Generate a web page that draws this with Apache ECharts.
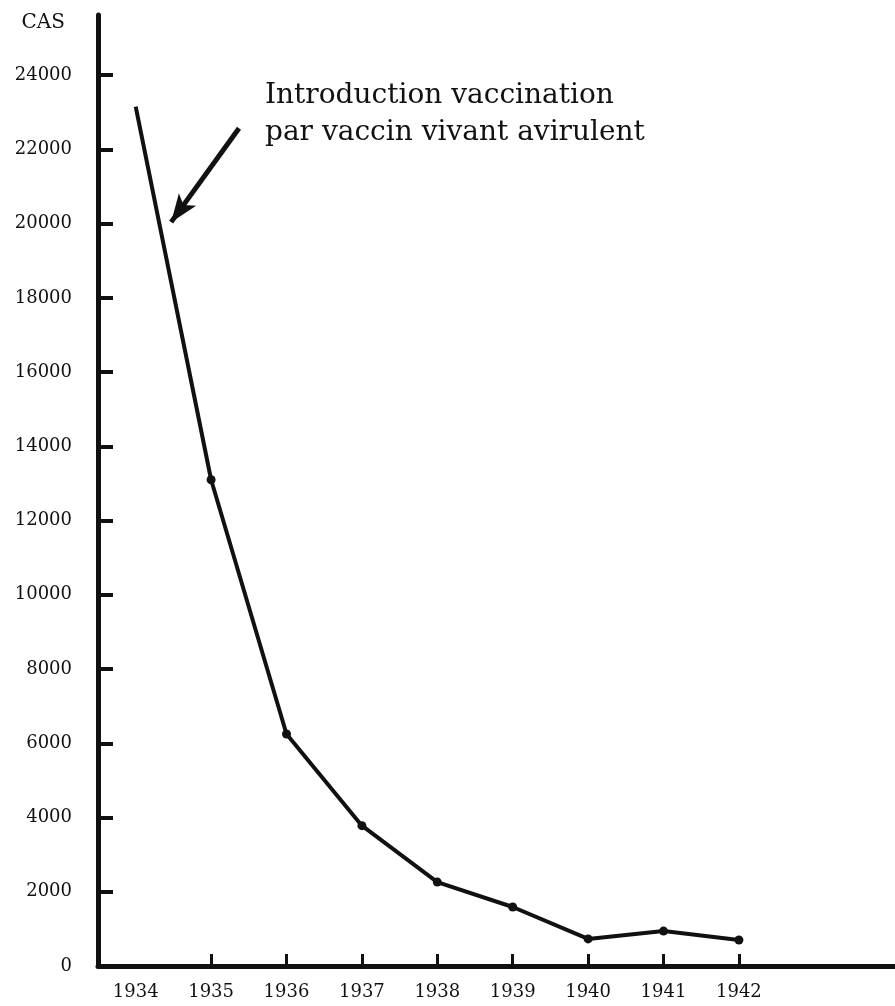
<!DOCTYPE html>
<html>
<head>
<meta charset="utf-8">
<script src="https://cdn.jsdelivr.net/npm/echarts@6/dist/echarts.min.js"></script>
<style>
  html, body { margin: 0; padding: 0; background: #fff; }
  #chart { width: 895px; height: 1006px; }
</style>
</head>
<body>
<div id="chart"></div>
<script>
const years = [1934, 1935, 1936, 1937, 1938, 1939, 1940, 1941, 1942];
const cases = [23150, 13100, 6250, 3780, 2260, 1590, 730, 940, 700];
const yTicks = [0, 2000, 4000, 6000, 8000, 10000, 12000, 14000, 16000, 18000, 20000, 22000, 24000];
const xTickYears = [1935, 1936, 1937, 1938, 1939, 1940, 1941, 1942];
const noteLines = ["Introduction vaccination", "par vaccin vivant avirulent"];

const ink = "#111";
const font = "DejaVu Serif";

const chart = echarts.init(document.getElementById("chart"));

const option = {
  animation: false,
  backgroundColor: "#fff",
  grid: { left: 98, right: 0, top: 15, bottom: 40 },
  xAxis: {
    type: "value",
    min: 1933.5,
    max: 1944.07,
    splitLine: { show: false },
    axisLine: { show: true, lineStyle: { color: ink, width: 5 } },
    axisTick: {
      show: true,
      inside: true,
      length: 12,
      customValues: xTickYears,
      lineStyle: { color: ink, width: 3 }
    },
    axisLabel: {
      customValues: years,
      formatter: v => String(v),
      color: ink,
      fontFamily: font,
      fontSize: 18,
      margin: 17
    }
  },
  yAxis: {
    type: "value",
    min: 0,
    max: 25620,
    name: "CAS",
    nameLocation: "end",
    nameGap: 0,
    nameTextStyle: { color: ink, fontFamily: font, fontSize: 20, align: "right", padding: [0, 33, -18, 0] },
    splitLine: { show: false },
    axisLine: { show: true, lineStyle: { color: ink, width: 5 } },
    axisTick: {
      show: true,
      inside: true,
      length: 15,
      customValues: yTicks.slice(1),
      lineStyle: { color: ink, width: 4 }
    },
    axisLabel: {
      customValues: yTicks,
      formatter: v => String(v),
      color: ink,
      fontFamily: font,
      fontSize: 18,
      margin: 26
    }
  },
  series: [
    {
      type: "line",
      data: years.map((y, i) => [y, cases[i]]),
      lineStyle: { color: ink, width: 4 },
      itemStyle: { color: ink },
      symbol: "circle",
      symbolSize: (v, p) => (p.dataIndex === 0 ? 0 : 9),
      markLine: {
        silent: true,
        symbol: ["none", "arrow"],
        symbolSize: [16, 28],
        label: { show: false },
        lineStyle: { color: ink, width: 5, type: "solid" },
        data: [[{ coord: [1935.37, 22570] }, { coord: [1934.47, 20040] }]]
      }
    }
  ],
  graphic: [
    {
      type: "text",
      left: 265,
      top: 77,
      style: {
        text: noteLines.join("\n"),
        fill: ink,
        font: "28px " + font,
        lineHeight: 37
      }
    }
  ]
};

chart.setOption(option);
</script>
</body>
</html>
